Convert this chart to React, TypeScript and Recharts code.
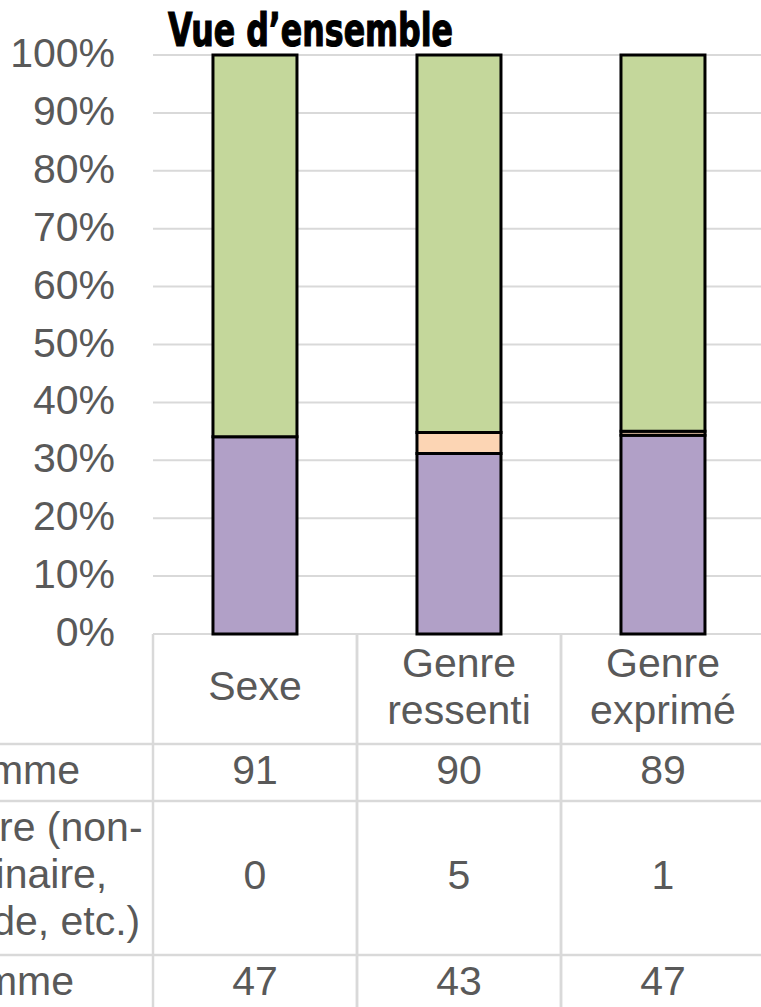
import React from 'react';
import { BarChart, Bar, XAxis, YAxis, CartesianGrid } from 'recharts';

// ---- data ----
const categories = ['Sexe', 'Genre ressenti', 'Genre exprimé'];
const femme = [91, 90, 89];
const autre = [0, 5, 1];
const homme = [47, 43, 47];
const yTicks = [0, 0.1, 0.2, 0.3, 0.4, 0.5, 0.6, 0.7, 0.8, 0.9, 1];
const rowLabelFemme = 'Femme';
const rowLabelAutre = ['Autre (non-', 'binaire,', 'fluide, etc.)'];
const rowLabelHomme = 'Homme';
const title = 'Vue d’ensemble';

const tableRows = [femme, autre, homme];
const data = categories.map((c, i) => ({ cat: c, femme: femme[i], autre: autre[i], homme: homme[i] }));

// ---- style / layout ----
const FONT = "'Liberation Sans', Arial, sans-serif";
const GRAY = '#595959';
const LINE = '#d9d9d9';
const FS = 41;
const PLOT_TOP = 55;
const PLOT_BOTTOM = 634;
const HEADER_H = 110;
const ROW_H = [57, 154, 57];
const LINE_H = 47;
const CHART_W = 780;
const CHART_H = 1020;
const X_AXIS_H = 10;

function YTick(props: any) {
  const { x, y, payload } = props;
  return (
    <text x={x} y={y} dy={12} textAnchor="end" fill={GRAY} fontSize={FS} fontFamily={FONT}>
      {Math.round(payload.value * 100) + '%'}
    </text>
  );
}

function XTick(props: any) {
  const { x, y, payload, index } = props;
  const half = payload && payload.offset ? payload.offset : 102;
  const lines = String(payload.value).split(' ');
  const headerMid = y + HEADER_H / 2;
  const firstBase = headerMid + 11 - ((lines.length - 1) * LINE_H) / 2;
  let top = y + HEADER_H;
  const vals = tableRows.map((row, r) => {
    const mid = top + ROW_H[r] / 2;
    top += ROW_H[r];
    return (
      <text key={r} x={x} y={mid + 11} textAnchor="middle" fill={GRAY} fontSize={FS} fontFamily={FONT}>
        {row[index]}
      </text>
    );
  });
  return (
    <g>
      <line x1={x - half} x2={x - half} y1={y} y2={y + 500} stroke={LINE} strokeWidth={2.5} />
      <line x1={x + half} x2={x + half} y1={y} y2={y + 500} stroke={LINE} strokeWidth={2.5} />
      {lines.map((l, i) => (
        <text key={i} x={x} y={firstBase + i * LINE_H} textAnchor="middle" fill={GRAY} fontSize={FS} fontFamily={FONT}>
          {l}
        </text>
      ))}
      {vals}
    </g>
  );
}

export default function App() {
  const rowTops: number[] = [];
  let t = PLOT_BOTTOM + HEADER_H;
  ROW_H.forEach((h) => {
    rowTops.push(t);
    t += h;
  });
  const autreMid = rowTops[1] + ROW_H[1] / 2;
  return (
    <div style={{ position: 'absolute', left: 0, top: 0, width: 761, height: 1007, overflow: 'hidden', background: '#fff' }}>
      <BarChart
        width={CHART_W}
        height={CHART_H}
        data={data}
        stackOffset="expand"
        barCategoryGap="29.4%"
        margin={{ top: PLOT_TOP, right: 15, left: 0, bottom: CHART_H - PLOT_BOTTOM - X_AXIS_H }}
      >
        <CartesianGrid vertical={false} stroke={LINE} strokeWidth={2} />
        <XAxis
          dataKey="cat"
          axisLine={false}
          tickLine={false}
          tickSize={0}
          tickMargin={0}
          height={X_AXIS_H}
          interval={0}
          tick={(p: any) => <XTick {...p} />}
        />
        <YAxis
          type="number"
          domain={[0, 1]}
          ticks={yTicks}
          interval={0}
          axisLine={false}
          tickLine={false}
          tickSize={0}
          tickMargin={38}
          width={153}
          tick={(p: any) => <YTick {...p} />}
        />
        <Bar dataKey="homme" stackId="a" fill="#b1a0c7" stroke="#000" strokeWidth={3} isAnimationActive={false} />
        <Bar dataKey="autre" stackId="a" fill="#fcd5b4" stroke="#000" strokeWidth={3} isAnimationActive={false} />
        <Bar dataKey="femme" stackId="a" fill="#c4d79b" stroke="#000" strokeWidth={3} isAnimationActive={false} />
      </BarChart>
      <svg width={761} height={1007} style={{ position: 'absolute', left: 0, top: 0, pointerEvents: 'none' }}>
        <text
          x={168}
          y={46}
          fontSize={47}
          fontWeight={900}
          fontFamily="'Liberation Sans Narrow', 'DejaVu Sans Condensed', 'Roboto Condensed', sans-serif"
          fill="#000"
          stroke="#000"
          strokeWidth={1.2}
          textLength={285}
          lengthAdjust="spacingAndGlyphs"
        >
          {title}
        </text>
        {rowTops.map((yy, i) => (
          <line key={i} x1={0} x2={761} y1={yy} y2={yy} stroke={LINE} strokeWidth={2.5} />
        ))}
        <text x={80} y={rowTops[0] + ROW_H[0] / 2 + 11} textAnchor="end" fill={GRAY} fontSize={FS} fontFamily={FONT}>
          {rowLabelFemme}
        </text>
        {rowLabelAutre.map((l, i) => (
          <text
            key={i}
            x={40}
            y={autreMid + 10 + (i - 1) * LINE_H}
            textAnchor="middle"
            fill={GRAY}
            fontSize={FS}
            fontFamily={FONT}
          >
            {l}
          </text>
        ))}
        <text x={74} y={rowTops[2] + ROW_H[2] / 2 + 11} textAnchor="end" fill={GRAY} fontSize={FS} fontFamily={FONT}>
          {rowLabelHomme}
        </text>
      </svg>
    </div>
  );
}
